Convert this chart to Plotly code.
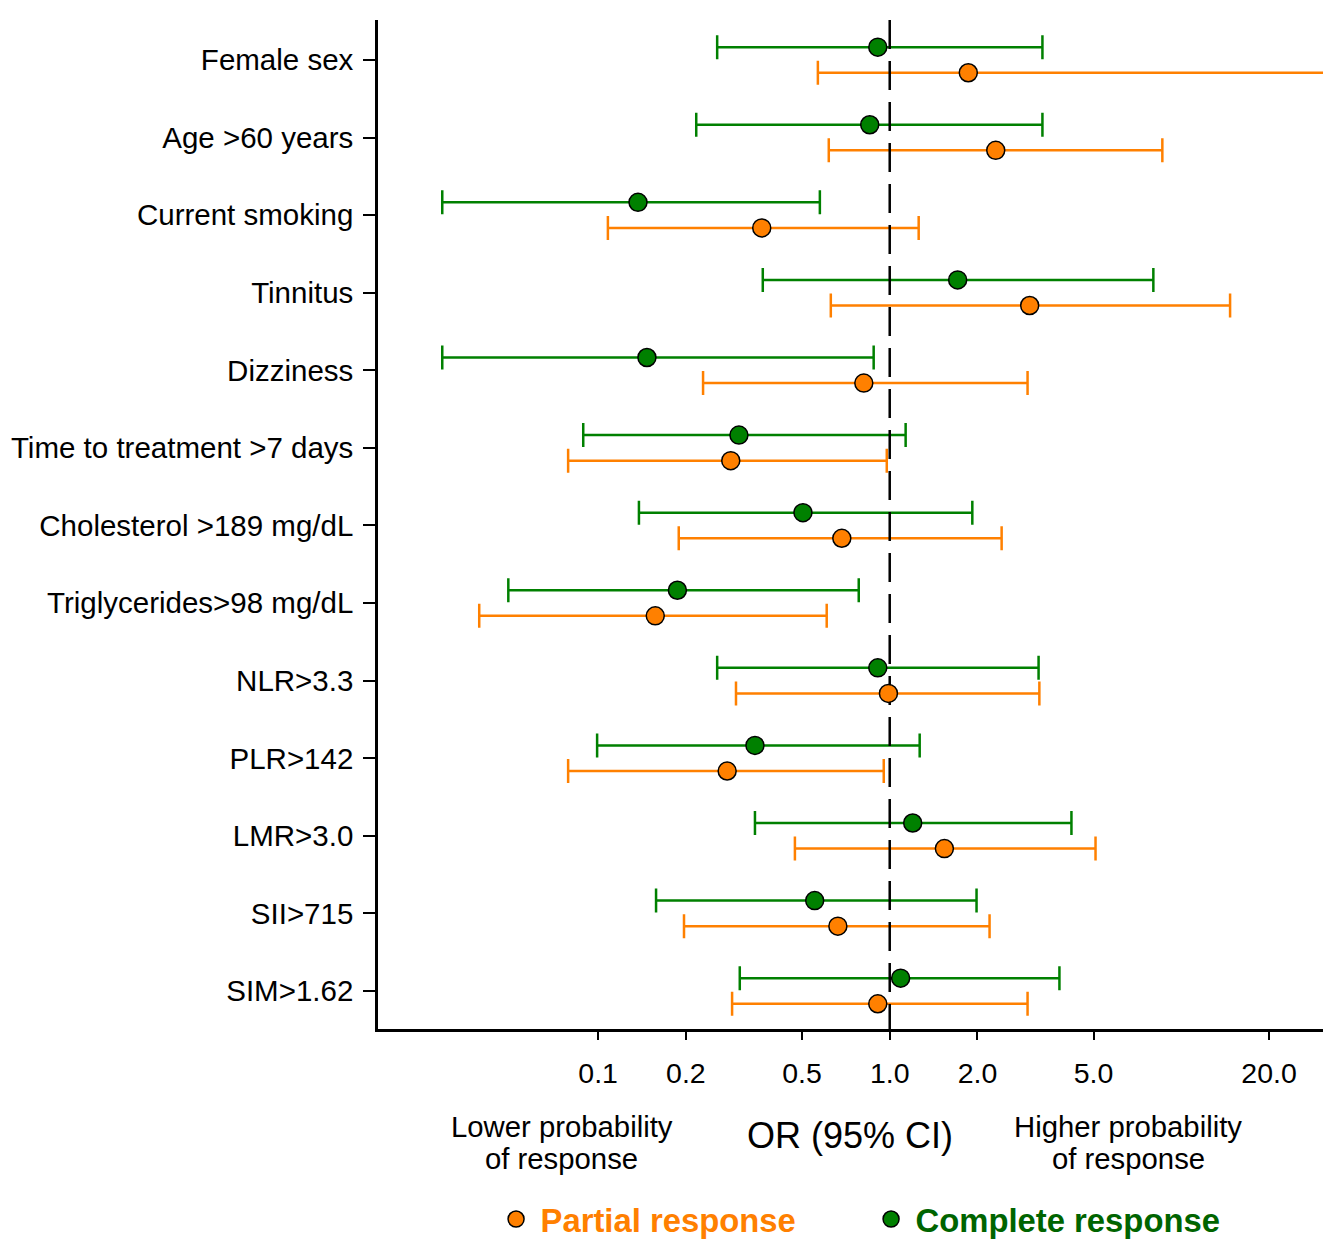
import plotly.graph_objects as go

categories = ["Female sex", "Age >60 years", "Current smoking", "Tinnitus", "Dizziness",
              "Time to treatment >7 days", "Cholesterol >189 mg/dL", "Triglycerides>98 mg/dL",
              "NLR>3.3", "PLR>142", "LMR>3.0", "SII>715", "SIM>1.62"]

or_partial = [1.86, 2.31, 0.364, 3.02, 0.815, 0.285, 0.685, 0.157, 0.99, 0.277, 1.54, 0.664, 0.91]
lo_partial = [0.567, 0.618, 0.108, 0.628, 0.229, 0.0789, 0.189, 0.0391, 0.297, 0.0789, 0.473, 0.197, 0.288]
hi_partial = [40.0, 8.61, 1.257, 14.7, 2.97, 0.977, 2.42, 0.608, 3.26, 0.954, 5.08, 2.2, 2.97]

or_complete = [0.91, 0.854, 0.137, 1.71, 0.147, 0.304, 0.504, 0.187, 0.91, 0.345, 1.199, 0.553, 1.09]
lo_complete = [0.256, 0.217, 0.0292, 0.367, 0.0292, 0.0889, 0.138, 0.0492, 0.256, 0.0992, 0.345, 0.158, 0.306]
hi_complete = [3.34, 3.34, 0.576, 8.02, 0.881, 1.134, 1.92, 0.783, 3.24, 1.267, 4.2, 1.985, 3.82]

tick_vals = [0.1, 0.2, 0.5, 1.0, 2.0, 5.0, 20.0]
tick_text = ["0.1", "0.2", "0.5", "1.0", "2.0", "5.0", "20.0"]
null_effect = 1.0

lower_lines = ["Lower probability", "of response"]
higher_lines = ["Higher probability", "of response"]
axis_title = "OR (95% CI)"

ORANGE = "#FF8000"
GREEN = "#008000"
FONT = "Liberation Sans, Arial, sans-serif"

idx = list(range(len(categories)))
off = 0.165
y_complete = [i - off for i in idx]
y_partial = [i + off for i in idx]

fig = go.Figure()

def ci_trace(vals, lo, hi, ys, color):
    return go.Scatter(
        x=vals, y=ys, mode="markers",
        marker=dict(size=1, opacity=0),
        error_x=dict(type="data", symmetric=False,
                     array=[h - v for v, h in zip(vals, hi)],
                     arrayminus=[v - l for v, l in zip(vals, lo)],
                     color=color, thickness=2.5, width=12),
        showlegend=False, hoverinfo="skip")

fig.add_trace(ci_trace(or_partial, lo_partial, hi_partial, y_partial, ORANGE))
fig.add_trace(ci_trace(or_complete, lo_complete, hi_complete, y_complete, GREEN))

fig.add_trace(go.Scatter(x=[null_effect, null_effect], y=[-0.515, 12.49], mode="lines",
                         line=dict(color="black", width=2.5, dash="29px,12px"),
                         showlegend=False, hoverinfo="skip"))

fig.add_trace(go.Scatter(
    x=or_partial, y=y_partial, mode="markers",
    marker=dict(size=18, color=ORANGE, line=dict(color="black", width=1.5)),
    name="<b><span style='color:#FF8000'>Partial response</span></b>"))
fig.add_trace(go.Scatter(
    x=or_complete, y=y_complete, mode="markers",
    marker=dict(size=18, color=GREEN, line=dict(color="black", width=1.5)),
    name="<b><span style='color:#006400'>Complete response</span></b>"))

fig.update_xaxes(type="log", range=[-1.755, 1.486],
                 tickvals=tick_vals, ticktext=tick_text,
                 showline=True, linecolor="black", linewidth=2.5,
                 ticks="outside", ticklen=8, tickwidth=2, tickcolor="black",
                 showgrid=False, zeroline=False, ticklabelstandoff=9,
                 tickfont=dict(family=FONT, size=28.5, color="black"))
fig.update_yaxes(range=[12.49, -0.515], tickvals=idx, ticktext=categories,
                 showline=True, linecolor="black", linewidth=2.5,
                 ticks="outside", ticklen=12, tickwidth=2, tickcolor="black",
                 showgrid=False, zeroline=False, ticklabelstandoff=4,
                 tickfont=dict(family=FONT, size=29.5, color="black"))

ann_font = dict(family=FONT, size=29.3, color="black")
for xs, lines in ((0.1947, lower_lines), (0.7937, higher_lines)):
    for yv, t in zip((-0.0971, -0.1288), lines):
        fig.add_annotation(text=t, x=xs, y=yv, xref="paper", yref="paper",
                           showarrow=False, font=ann_font,
                           xanchor="center", yanchor="middle")
fig.add_annotation(text=axis_title, x=0.4995, y=-0.1051,
                   xref="paper", yref="paper", showarrow=False,
                   font=dict(family=FONT, size=36, color="black"),
                   xanchor="center", yanchor="middle")

fig.update_layout(
    width=1323, height=1241,
    margin=dict(l=370, r=8, t=12, b=220, autoexpand=False),
    plot_bgcolor="white", paper_bgcolor="white",
    showlegend=True,
    legend=dict(orientation="h", x=0.517, y=-0.1885, xanchor="center", yanchor="middle",
                font=dict(family=FONT, size=32.8), itemsizing="trace", itemwidth=39,
                entrywidth=321, bgcolor="rgba(0,0,0,0)"),
)

fig.write_html("out.html")
